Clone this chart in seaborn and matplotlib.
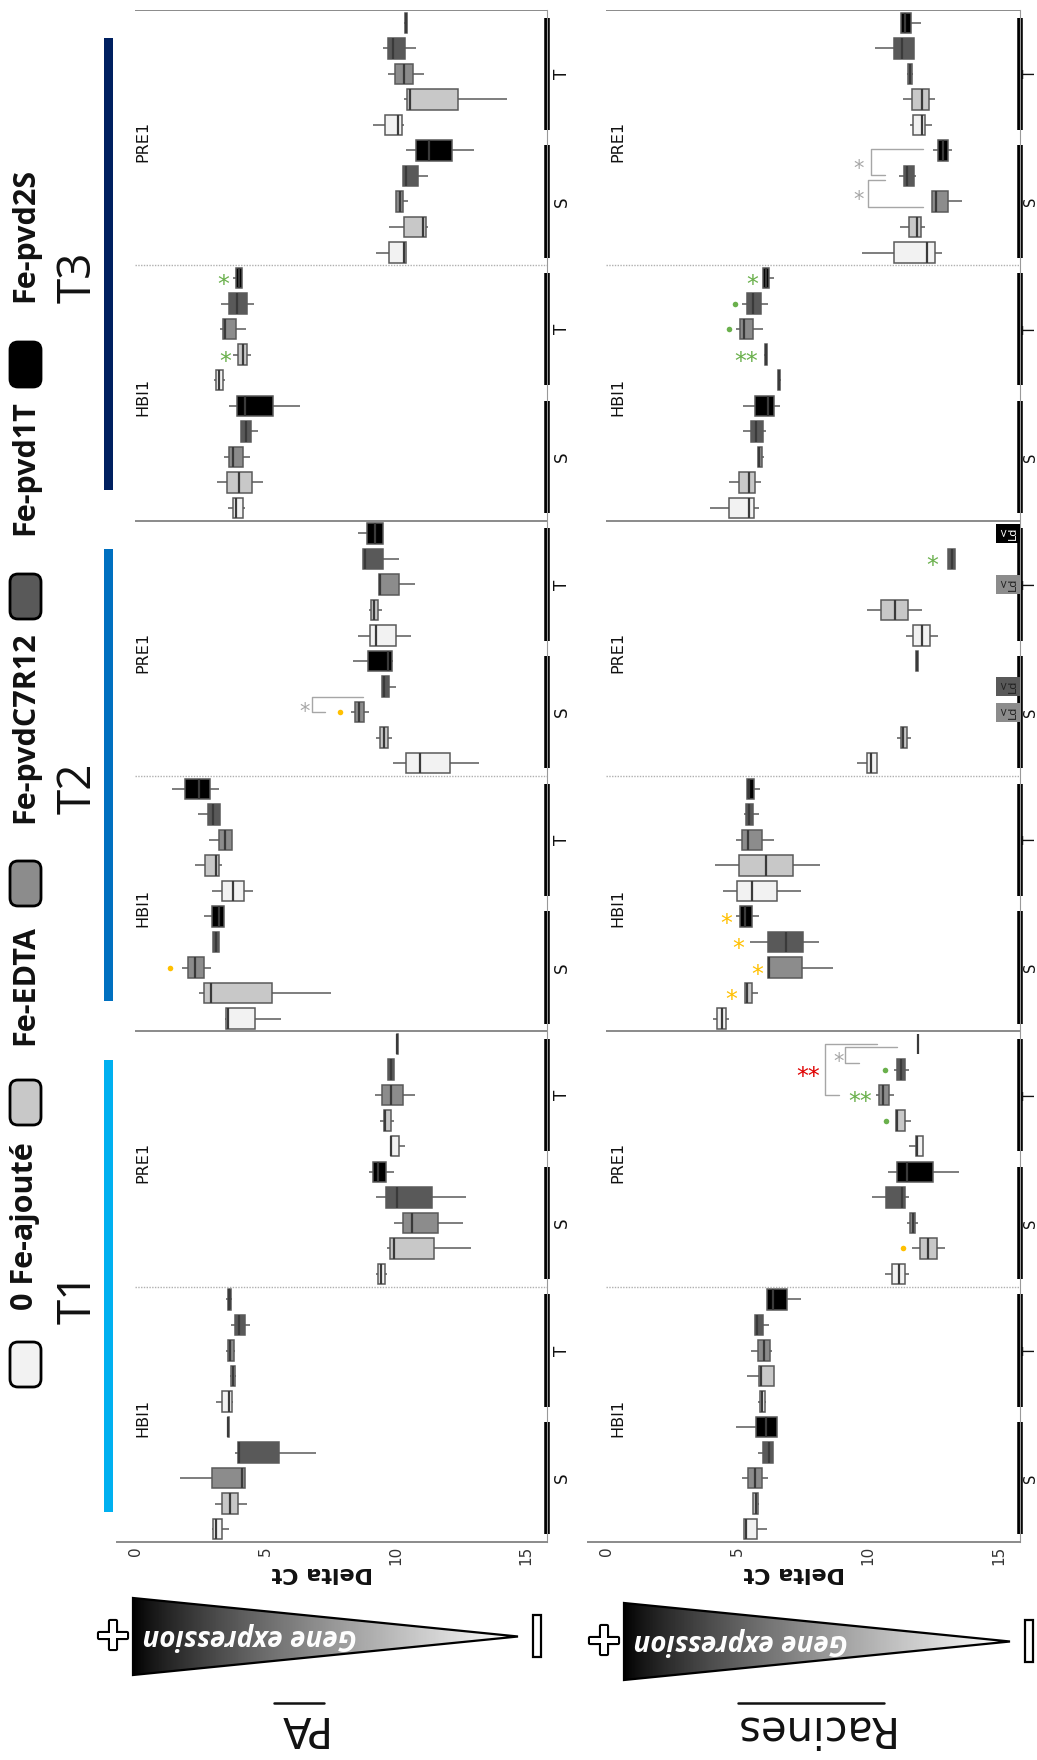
import numpy as np
import pandas as pd
import matplotlib
matplotlib.use('Agg')
import matplotlib.pyplot as plt
import matplotlib.patheffects as pe
from matplotlib.patches import Polygon, FancyBboxPatch, Rectangle
from matplotlib.lines import Line2D
from matplotlib.transforms import Affine2D
import seaborn as sns

W, H = 1037, 1760

# treatments, listed top to bottom inside every S / T group
treatments = ['Fe-pvd2S', 'Fe-pvd1T', 'Fe-pvdC7R12', 'Fe-EDTA', '0 Fe-ajouté']
legend_labels = ['0 Fe-ajouté', 'Fe-EDTA', 'Fe-pvdC7R12', 'Fe-pvd1T', 'Fe-pvd2S']
colors = {'0 Fe-ajouté': '#f2f2f2', 'Fe-EDTA': '#c8c8c8', 'Fe-pvdC7R12': '#8c8c8c',
          'Fe-pvd1T': '#595959', 'Fe-pvd2S': '#000000'}
times = ['T3', 'T2', 'T1']
time_colors = ['#002060', '#0070c0', '#00b0f0']
genes = ['PRE1', 'HBI1']
tissues = ['T', 'S']
tick_vals = [0, 5, 10, 15]

# ---- PA (leaves) : low whisker, q1, median, q3, high whisker, 60 boxes top -> bottom
pa_low = [10.33, 9.51, 9.68, 10.31, 9.14,   10.38, 10.27, 10.02, 9.72, 9.24,
          3.74, 3.28, 3.26, 3.77, 3.03,     3.61, 4.06, 3.40, 3.15, 3.56,
          8.56, 8.75, 9.36, 8.97, 8.56,     8.35, 9.48, 8.28, 9.23, 9.90,
          1.41, 2.41, 2.82, 2.30, 2.95,     2.62, 3.00, 1.79, 2.44, 3.44,
          10.00, 9.71, 9.20, 9.38, 9.81,    8.98, 9.24, 9.94, 9.67, 9.24,
          3.50, 3.68, 3.50, 3.62, 3.10,     3.53, 3.82, 1.73, 3.07, 2.96]
pa_q1 = [10.35, 9.68, 9.96, 10.43, 9.59,    10.79, 10.27, 10.02, 10.31, 9.74,
         3.85, 3.58, 3.36, 3.95, 3.10,      3.92, 4.06, 3.60, 3.53, 3.74,
         8.90, 8.75, 9.36, 9.04, 9.00,      8.94, 9.48, 8.43, 9.39, 10.38,
         1.92, 2.78, 3.22, 2.67, 3.33,      2.95, 3.00, 2.04, 2.64, 3.49,
         10.03, 9.71, 9.48, 9.55, 9.81,     9.11, 9.62, 10.26, 9.77, 9.30,
         3.55, 3.82, 3.55, 3.66, 3.34,      3.55, 3.93, 2.93, 3.34, 3.00]
pa_med = [10.38, 9.90, 10.33, 10.54, 10.09, 11.26, 10.40, 10.15, 11.06, 10.31,
          4.00, 3.92, 3.44, 4.13, 3.20,     4.22, 4.25, 3.74, 3.97, 3.88,
          9.20, 8.80, 9.40, 9.15, 9.23,     9.70, 9.55, 8.60, 9.55, 10.92,
          2.44, 3.00, 3.45, 3.08, 3.77,     3.20, 3.10, 2.30, 2.92, 3.55,
          10.06, 9.80, 9.80, 9.60, 9.83,    9.33, 10.06, 10.63, 9.94, 9.44,
          3.60, 4.00, 3.65, 3.75, 3.60,     3.57, 4.00, 4.10, 3.62, 3.10]
pa_q3 = [10.42, 10.35, 10.66, 12.40, 10.22, 12.15, 10.84, 10.27, 11.16, 10.40,
         4.10, 4.29, 3.88, 4.29, 3.36,      5.28, 4.43, 4.15, 4.47, 4.13,
         9.51, 9.49, 10.13, 9.32, 10.00,    9.86, 9.74, 8.79, 9.71, 12.07,
         2.85, 3.26, 3.71, 3.22, 4.18,      3.42, 3.22, 2.62, 5.23, 4.59,
         10.09, 9.92, 10.28, 9.83, 10.11,   9.62, 11.39, 11.60, 11.47, 9.58,
         3.66, 4.23, 3.78, 3.82, 3.72,      3.59, 5.53, 4.20, 3.96, 3.34]
pa_high = [10.44, 10.77, 11.09, 14.25, 10.31, 13.01, 11.23, 10.45, 11.23, 10.40,
           4.10, 4.56, 4.24, 4.43, 3.44,    6.32, 4.70, 4.40, 4.91, 4.22,
           9.51, 10.13, 10.73, 9.45, 10.57, 9.90, 10.00, 8.97, 9.87, 13.20,
           3.22, 3.26, 3.71, 3.33, 4.50,    3.42, 3.22, 2.89, 7.52, 5.60,
           10.10, 9.92, 10.73, 9.92, 10.34, 9.92, 12.69, 12.59, 12.90, 9.67,
           3.70, 4.39, 3.82, 3.88, 3.75,    3.61, 6.93, 4.20, 4.30, 3.59]

# ---- Racines (roots); nan = below detection (<Ld)
nan = np.nan
ra_low = [11.25, 10.27, 11.50, 11.35, 11.59, 12.48, 11.16, 12.42, 11.22, 9.76,
          6.00, 5.18, 4.95, 6.03, 6.55,     5.23, 5.23, 5.78, 4.69, 3.97,
          nan, 13.05, nan, 9.97, 11.44,     11.82, nan, nan, 11.12, 9.59,
          5.37, 5.27, 4.95, 4.16, 4.47,     4.95, 5.50, 6.16, 5.31, 4.06,
          11.88, 11.00, 10.30, 11.06, 11.56, 10.76, 10.16, 11.48, 11.69, 10.66,
          6.13, 5.67, 5.52, 5.39, 5.81,     4.95, 5.81, 5.18, 5.61, 5.27]
ra_q1 = [11.25, 10.97, 11.54, 11.67, 11.73, 12.65, 11.37, 12.42, 11.56, 10.97,
         6.00, 5.36, 5.10, 6.05, 6.57,      5.69, 5.52, 5.78, 5.08, 4.69,
         nan, 13.05, nan, 10.48, 11.73,     11.84, nan, nan, 11.25, 9.95,
         5.37, 5.33, 5.18, 5.08, 4.99,      5.11, 6.16, 6.16, 5.31, 4.22,
         11.90, 11.12, 10.42, 11.06, 11.82, 11.12, 10.67, 11.59, 11.97, 10.90,
         6.13, 5.67, 5.80, 5.84, 5.87,      5.71, 6.00, 5.42, 5.61, 5.27]
ra_med = [11.40, 11.30, 11.60, 12.07, 12.04, 12.85, 11.50, 12.60, 11.88, 12.26,
          6.10, 5.59, 5.27, 6.09, 6.60,     6.16, 5.70, 5.85, 5.46, 5.44,
          nan, 13.20, nan, 11.02, 12.07,    11.87, nan, nan, 11.35, 10.10,
          5.45, 5.45, 5.43, 6.09, 5.55,     5.30, 6.86, 6.22, 5.37, 4.42,
          11.91, 11.25, 10.57, 11.10, 11.85, 11.50, 11.31, 11.70, 12.29, 11.19,
          6.35, 5.74, 6.03, 5.90, 5.96,     6.10, 6.20, 5.67, 5.70, 5.33]
ra_q3 = [11.65, 11.76, 11.69, 12.33, 12.18, 13.05, 11.76, 13.05, 12.01, 12.54,
         6.22, 5.90, 5.62, 6.13, 6.64,      6.41, 5.97, 5.93, 5.69, 5.65,
         nan, 13.31, nan, 11.54, 12.37,     11.90, nan, nan, 11.50, 10.33,
         5.65, 5.62, 5.93, 7.14, 6.51,      5.56, 7.52, 7.47, 5.55, 4.57,
         11.92, 11.41, 10.78, 11.40, 12.11, 12.49, 11.40, 11.79, 12.64, 11.40,
         6.90, 5.97, 6.25, 6.41, 6.06,      6.51, 6.37, 5.93, 5.78, 5.74]
ra_high = [12.01, 11.76, 11.72, 12.54, 12.43, 13.22, 11.82, 13.60, 12.18, 12.81,
           6.41, 6.16, 5.99, 6.15, 6.66,    6.63, 6.09, 6.03, 5.90, 5.84,
           nan, 13.31, nan, 12.07, 12.68,   11.92, nan, nan, 11.63, 10.33,
           5.87, 5.84, 6.39, 8.17, 7.43,    5.84, 8.13, 8.64, 5.78, 4.67,
           11.94, 11.56, 10.99, 11.65, 12.11, 13.47, 11.56, 11.91, 12.93, 11.56,
           7.43, 6.20, 6.32, 6.41, 6.09,    6.51, 6.37, 6.16, 5.84, 6.13]

# significance marks: (box index, Delta Ct, symbol, colour)
pa_marks = [(10, 3.36, '*', 'green'), (13, 3.47, '*', 'green'),
            (27, 7.85, '.', 'yellow'), (37, 1.34, '.', 'yellow')]
ra_marks = [(10, 5.56, '*', 'green'), (11, 4.92, '.', 'green'), (12, 4.67, '.', 'green'),
            (13, 5.35, '**', 'green'), (21, 12.44, '*', 'green'),
            (35, 4.59, '*', 'yellow'), (36, 5.04, '*', 'yellow'),
            (37, 5.78, '*', 'yellow'), (38, 4.78, '*', 'yellow'),
            (41, 10.65, '.', 'green'), (42, 9.69, '**', 'green'), (43, 10.67, '.', 'green'),
            (41.0, 7.72, '**', 'red'), (48, 11.34, '.', 'yellow')]
# brackets: (top index, bottom index, x of bar, x end top arm, x end bottom arm, star x)
pa_brackets = [(26.4, 27.0, 6.77, 8.74, 7.28, 6.51)]
ra_brackets = [(4.95, 5.98, 10.10, 12.10, 10.64, 9.63), (6.16, 7.2, 10.01, 10.64, 12.10, 9.63),
               (40.1, 40.75, 9.12, 11.12, 9.66, 8.86), (40.0, 42.0, 8.35, 10.35, 8.89, None)]
# boxes below the detection limit on the roots panel
ra_ld = [20, 22, 26, 27]

mark_colors = {'green': '#6ab04c', 'yellow': '#ffc000', 'red': '#e00000', 'gray': '#a6a6a6'}

# categories
cats, cat_trt = [], []
for t in times:
    for g in genes:
        for s in tissues:
            for tr in treatments:
                cats.append(f'{t}|{g}|{s}|{tr}')
                cat_trt.append(tr)


def long_table(lo, q1, med, q3, hi):
    rows = []
    for c, tr, vals in zip(cats, cat_trt, zip(lo, q1, med, q3, hi)):
        for v in vals:
            if not np.isnan(v):
                rows.append({'cat': c, 'trt': tr, 'ct': v})
    return pd.DataFrame(rows)


sns.set_theme(style='white')
plt.rcParams['font.family'] = ['DejaVu Sans']

fig = plt.figure(figsize=(W / 100, H / 100), dpi=100)
pix = Affine2D().scale(1, -1).translate(0, H) + fig.dpi_scale_trans.inverted() + fig.dpi_scale_trans


def draw_panel(ax, df, marks, brackets, gene_x, tis_off, tis_size):
    sns.boxplot(data=df, x='ct', y='cat', hue='trt', order=cats, hue_order=treatments,
                palette=colors, dodge=False, whis=(0, 100), width=0.8, showcaps=False,
                linewidth=1.1, linecolor='#5a5a5a', fliersize=0, legend=False, ax=ax,
                medianprops={'color': '#3a3a3a', 'linewidth': 1.6})
    ax.set_xlim(-0.7, 15.8)
    ax.set_ylim(len(cats) - 0.5, -0.5)
    ax.set_ylabel('')
    ax.set_xlabel('')
    ax.set_yticks([])
    ax.set_xticks(tick_vals)
    ax.set_xticklabels([str(v) for v in tick_vals], rotation=90, fontsize=11, color='#333333')
    ax.tick_params(axis='x', length=0, pad=3)
    for side in ['left', 'top']:
        ax.spines[side].set_visible(False)
    ax.spines['bottom'].set_color('#8a8a8a')
    ax.spines['bottom'].set_linewidth(1.4)
    ax.spines['right'].set_color('#999999')
    ax.spines['right'].set_linewidth(0.8)

    # separators between time points (solid) and genes (dotted)
    ax.hlines(-0.5, 0, 15.8, color='#8a8a8a', lw=1.4)
    for k in range(3):
        ax.hlines(20 * k + 9.5, 0, 15.8, color='#b0b0b0', lw=1.0, linestyles=(0, (1, 1)))
    for k in (1, 2):
        ax.hlines(20 * k - 0.5, 0, 15.8, color='#8a8a8a', lw=1.4)

    ytr = ax.get_yaxis_transform()
    for gi in range(12):
        y0 = 5 * gi - 0.5 + 0.3
        y1 = 5 * gi + 4.5 - 0.3
        ax.plot([1.0, 1.0], [y0, y1], color='black', lw=4, transform=ytr,
                clip_on=False, solid_capstyle='butt')
        ax.text(1.0 + tis_off, 5 * gi + 2, tissues[gi % 2], rotation=90, transform=ytr,
                ha='left', va='center', fontsize=tis_size, color='#111111', clip_on=False)
    for bi in range(6):
        ax.text(gene_x, 10 * bi + 4.65, genes[bi % 2], rotation=90, ha='left', va='center',
                fontsize=11.5, color='#111111')

    for idx, ct, sym, col in marks:
        c = mark_colors[col]
        if sym == '.':
            ax.plot(ct, idx, 'o', color=c, ms=4, mec='none')
        else:
            ax.text(ct, idx + 0.28, sym, color=c, fontsize=17, ha='center', va='center')
    for ytop, ybot, xv, xt, xb, xs in brackets:
        c = mark_colors['gray']
        ax.plot([xt, xv, xv, xb], [ytop, ytop, ybot, ybot], color=c, lw=1.0)
        if xs is not None:
            ax.text(xs, (ytop + ybot) / 2 + 0.28, '*', color=c, fontsize=15,
                    ha='center', va='center')

    ax.text(0.478, -0.0205, 'Delta Ct', transform=ax.transAxes, rotation=180,
            ha='center', va='center', fontsize=16, fontweight='bold', color='#111111')


ax_pa = fig.add_axes([117 / W, 1 - 1542 / H, 430 / W, 1532 / H])
draw_panel(ax_pa, long_table(pa_low, pa_q1, pa_med, pa_q3, pa_high), pa_marks, pa_brackets,
           0.0, 0.014, 12)

ax_ra = fig.add_axes([588 / W, 1 - 1542 / H, 432 / W, 1532 / H])
draw_panel(ax_ra, long_table(ra_low, ra_q1, ra_med, ra_q3, ra_high), ra_marks, ra_brackets,
           0.15, 0.006, 10.5)

# below detection labels
ytr = ax_ra.get_yaxis_transform()
for idx in ra_ld:
    tr = cat_trt[idx]
    fg = 'white' if tr == 'Fe-pvd2S' else '#222222'
    ax_ra.text(0.994, idx, '<\nLd', rotation=90, transform=ytr, ha='right', va='center',
               fontsize=8, linespacing=0.85, color=fg, clip_on=False,
               bbox=dict(boxstyle='square,pad=0.25', fc=colors[tr], ec='none'))

# ---- time labels and coloured bars
for k, t in enumerate(times):
    yc = 10 + 1532 / 3 * (k + 0.5)
    fig.text(79, yc + 12, t, transform=pix, rotation=90, ha='center', va='center',
             fontsize=33, color='#111111', family=['Open Sans', 'DejaVu Sans'])
    fig.add_artist(Rectangle((104, yc - 227), 9, 452, transform=pix, fc=time_colors[k], ec='none'))

# ---- legend
leg_box_top = [1342, 1080, 861, 574, 342]
leg_text_bottom = [1310, 1045, 823, 535, 302]
for lab, bt, tb in zip(legend_labels, leg_box_top, leg_text_bottom):
    fig.add_artist(FancyBboxPatch((10, bt), 31, 45, transform=pix,
                                  boxstyle='round,pad=0,rounding_size=8',
                                  fc=colors[lab], ec='black', lw=2))
    fig.text(25, tb, lab, transform=pix, rotation=90, ha='center', va='bottom',
             fontsize=22, fontweight='bold', color='#111111', family=['Open Sans', 'DejaVu Sans'])

# ---- gene expression triangles
grad = np.linspace(0, 1, 256) ** 0.8
for x0, x1, y0, y1, xt in [(133, 518, 1598, 1675, 250), (624, 1010, 1603, 1680, 741)]:
    ax_t = fig.add_axes([x0 / W, 1 - y1 / H, (x1 - x0) / W, (y1 - y0) / H])
    ax_t.set_xlim(0, 1)
    ax_t.set_ylim(0, 1)
    ax_t.axis('off')
    im = ax_t.imshow(grad[None, :], extent=[0, 1, 0, 1], aspect='auto', cmap='gray',
                     vmin=0, vmax=1)
    tri = Polygon([[0, 0], [0, 1], [1, 0.5]], closed=True, fc='none', ec='black', lw=1.6,
                  transform=ax_t.transAxes, clip_on=False)
    ax_t.add_patch(tri)
    im.set_clip_path(tri)
    ym = (y0 + y1) / 2
    fig.text(xt, ym, 'Gene expression', transform=pix, rotation=180, ha='center', va='center',
             fontsize=20, style='italic', fontweight='bold', color='white',
             family=['Open Sans', 'DejaVu Sans'])
    fig.text(x0 - 20, ym, '+', transform=pix, ha='center', va='center', fontsize=32,
             fontweight='bold', color='white',
             path_effects=[pe.withStroke(linewidth=3, foreground='black')])
    fig.add_artist(Rectangle((x1 + 15, ym - 21), 8, 42, transform=pix, fc='white',
                             ec='black', lw=1.6))

# ---- panel names
for name, xc, half in [('PA', 299, 25), ('Racines', 811, 73)]:
    fig.text(xc, 1728, name, transform=pix, rotation=180, ha='center', va='center',
             fontsize=30, color='#111111')
    fig.add_artist(Line2D([xc - half, xc + half], [1703, 1703], transform=pix,
                          color='#111111', lw=1.8))

fig.savefig('out.png', dpi=100)
